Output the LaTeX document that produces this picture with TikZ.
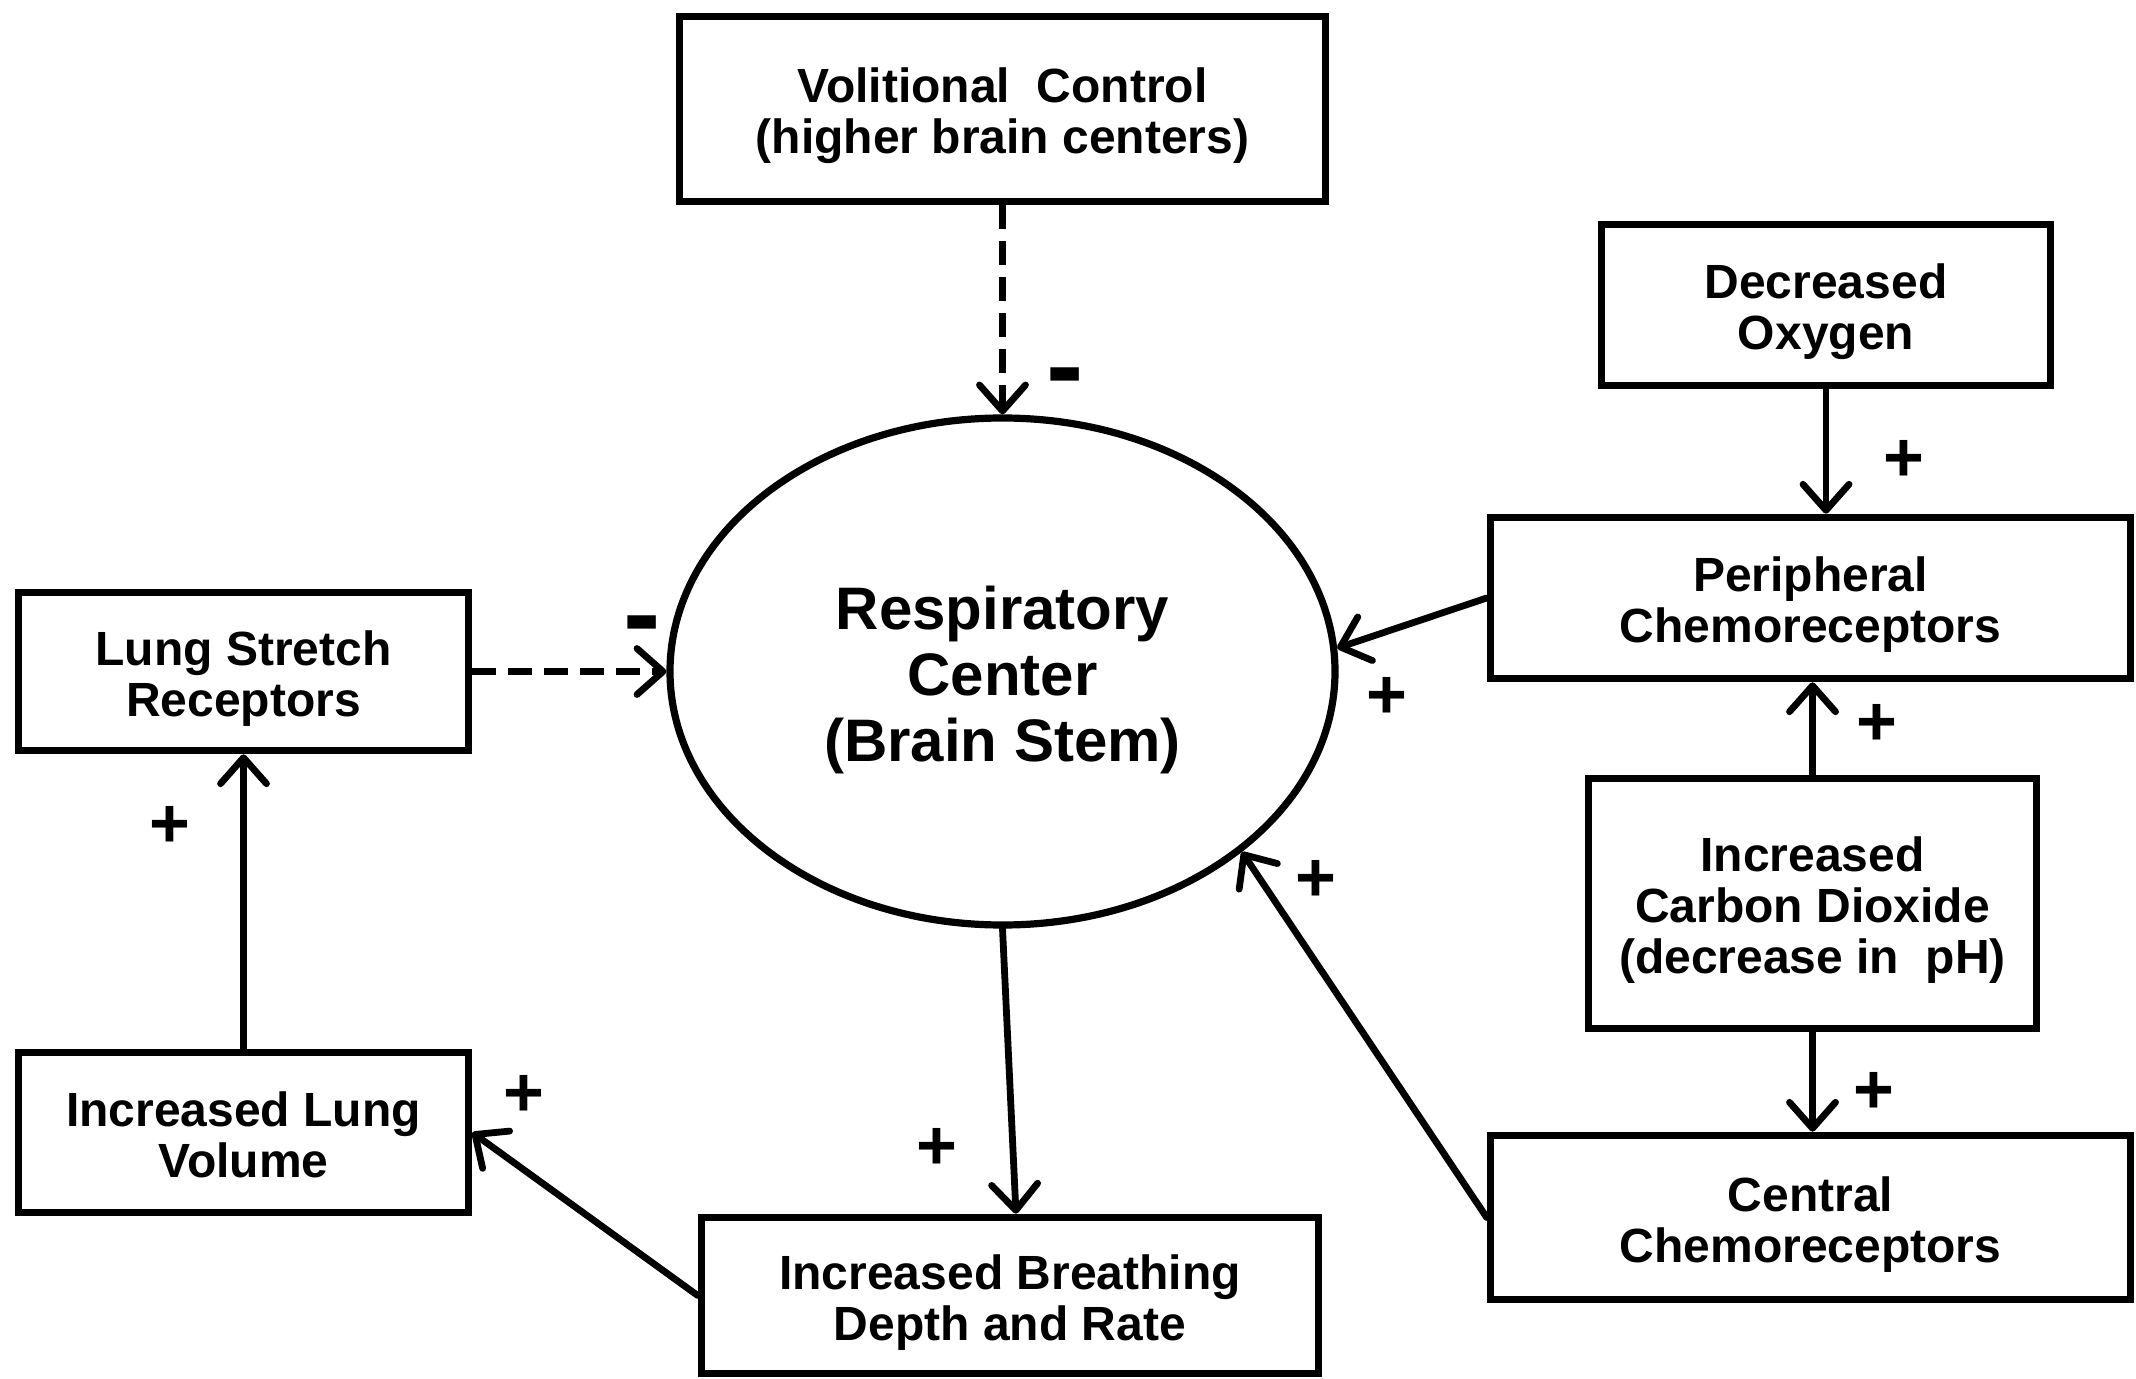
\documentclass[tikz,border=0pt]{standalone}
\usepackage{fontspec}
\setmainfont{Liberation Sans}
\usetikzlibrary{shapes.geometric,arrows.meta}
\newcommand{\boxlines}[1]{\raisebox{-4.6pt}[\height][\depth]{\begin{tabular}{@{}c@{}}#1\end{tabular}}}
\begin{document}
\begin{tikzpicture}[x=0.5pt,y=-0.5pt,
  box/.style={draw, line width=3.8pt, rectangle, align=center, inner sep=0pt,
    font=\fontsize{24}{25.5}\selectfont\bfseries},
  arr/.style={line width=3.4pt, line cap=round,
    -{Straight Barb[length=13pt,width=23pt,round]}},
  dasharr/.style={arr, line cap=butt, dash pattern=on 12pt off 6pt},
  plus/.style={font=\fontsize{35}{35}\selectfont\bfseries, inner sep=0pt},
  minus/.style={font=\fontsize{56}{56}\selectfont\bfseries, inner sep=0pt}
]
\useasboundingbox (0,0) rectangle (2136,1379);
\fill[white] (0,0) rectangle (2136,1379);

% nodes
\node[box, minimum width=323pt, minimum height=92.5pt] (vc) at (1002.5,109)
  {\boxlines{Volitional\ \ Control\\(higher brain centers)}};
\node[draw, ellipse, line width=3.6pt, inner sep=0pt, align=center,
  minimum width=332.5pt, minimum height=253.5pt,
  font=\fontsize{30}{33}\selectfont\bfseries] (rc) at (1002.5,671.5)
  {\raisebox{-5.4pt}[\height][\depth]{\begin{tabular}{@{}c@{}}Respiratory\\Center\\(Brain Stem)\end{tabular}}};
\node[box, minimum width=225pt, minimum height=79pt] (ls) at (243.5,671.5)
  {\boxlines{Lung Stretch\\Receptors}};
\node[box, minimum width=225pt, minimum height=80pt] (lv) at (243.5,1132.5)
  {\boxlines{Increased Lung\\Volume}};
\node[box, minimum width=308.5pt, minimum height=78pt] (br) at (1010,1295.5)
  {\boxlines{Increased Breathing\\Depth and Rate}};
\node[box, minimum width=224.5pt, minimum height=80.5pt] (ox) at (1826,305)
  {\boxlines{Decreased\\Oxygen}};
\node[box, minimum width=320pt, minimum height=80.5pt] (pc) at (1810.5,598)
  {\boxlines{Peripheral\\Chemoreceptors}};
\node[box, minimum width=224pt, minimum height=125pt] (co) at (1812.5,903.5)
  {\boxlines{Increased\\Carbon Dioxide\\(decrease in\ \ pH)}};
\node[box, minimum width=320pt, minimum height=82pt] (cc) at (1810.5,1217.5)
  {\boxlines{Central\\Chemoreceptors}};

% connectors
\draw[dasharr] (vc.south) -- (rc.north);
\draw[dasharr] (ls.east) -- (rc.west);
\draw[arr] (lv.north) -- (ls.south);
\draw[arr] (rc.south) -- ([xshift=3pt]br.north);
\draw[arr] (br.west) -- (lv.east);
\draw[arr] (ox.south) -- (ox.south |- pc.north);
\draw[arr] (pc.west) -- (rc.4);
\draw[arr] (co.north) -- (co.north |- pc.south);
\draw[arr] (co.south) -- (co.south |- cc.north);
\draw[arr] (cc.west) -- (rc.-37.7);

% signs
\node[minus] (m1) at (1065,386) {-};
\node[minus] (m2) at (642,634) {-};
\node[plus] (p1) at (170,827) {+};
\node[plus] (p2) at (524,1096) {+};
\node[plus] (p3) at (937,1149) {+};
\node[plus] (p4) at (1904,461) {+};
\node[plus] (p5) at (1387,698) {+};
\node[plus] (p6) at (1877,725) {+};
\node[plus] (p7) at (1316,881) {+};
\node[plus] (p8) at (1874,1093) {+};
\end{tikzpicture}
\end{document}
